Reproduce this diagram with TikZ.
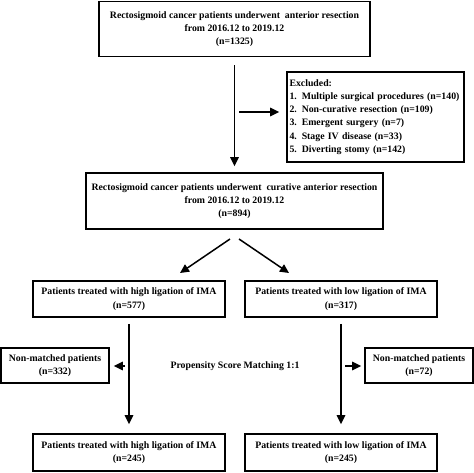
\documentclass[tikz,border=0pt]{standalone}
\usepackage{fontspec}
\setmainfont{Liberation Serif}
\usetikzlibrary{arrows.meta}
\begin{document}
\begin{tikzpicture}[x=1pt,y=-1pt,
  txt/.style={font=\bfseries\fontsize{9.8}{13.3}\selectfont},
  box/.style={draw, line width=1.8pt, align=center, inner sep=0pt, txt},
  arr/.style={line width=1.5pt, -{Triangle[length=9pt,width=8.5pt]}}]
\useasboundingbox (0,0) rectangle (474,472);
\node[box, minimum width=271pt, minimum height=55pt] (b1) at (234.5,29) {Rectosigmoid cancer patients underwent\ \ anterior resection\\from 2016.12 to 2019.12\\(n=1325)};
\node[box, minimum width=177pt, minimum height=90pt, align=left, text width=172pt, inner xsep=2.5pt] (ex) at (375.5,117) {Excluded:\\1. Multiple surgical procedures (n=140)\\2. Non-curative resection (n=109)\\3. Emergent surgery (n=7)\\4. Stage IV disease (n=33)\\5. Diverting stomy (n=142)};
\node[box, minimum width=297pt, minimum height=56pt] (b2) at (234.5,201) {Rectosigmoid cancer patients underwent\ \ curative anterior resection\\from 2016.12 to 2019.12\\(n=894)};
\node[box, minimum width=192pt, minimum height=36pt] (hi) at (129,299) {Patients treated with high ligation of IMA\\(n=577)};
\node[box, minimum width=192pt, minimum height=36pt] (lo) at (341,299) {Patients treated with low ligation of IMA\\(n=317)};
\node[box, minimum width=108pt, minimum height=35pt] (nml) at (55,365.5) {Non-matched patients\\(n=332)};
\node[box, minimum width=108pt, minimum height=35pt] (nmr) at (419,365.5) {Non-matched patients\\(n=72)};
\node[box, minimum width=192pt, minimum height=37pt] (bh) at (129,452.5) {Patients treated with high ligation of IMA\\(n=245)};
\node[box, minimum width=192pt, minimum height=37pt] (bl) at (341,452.5) {Patients treated with low ligation of IMA\\(n=245)};
\node[txt] (psm) at (235,366) {Propensity Score Matching 1:1};
\coordinate (j) at (235,112);
\draw[arr, shorten <=8pt, shorten >=6pt] (b1.south) -- (b2.north);
\draw[arr, shorten <=4pt, shorten >=7pt] (j) -- (ex.west |- j);
\coordinate (d1s) at (230,239);
\coordinate (d1e) at (180,273);
\coordinate (d2s) at (239,239);
\coordinate (d2e) at (289,273);
\draw[arr] (d1s) -- (d1e);
\draw[arr] (d2s) -- (d2e);
\draw[arr, shorten <=6pt, shorten >=9pt] (hi.south) -- (bh.north);
\draw[arr, shorten <=6pt, shorten >=9pt] (lo.south) -- (bl.north);
\coordinate (jl) at (hi.south |- psm);
\coordinate (jr) at (lo.south |- psm);
\draw[arr, shorten <=4pt, shorten >=4pt] (jl) -- (nml.east |- jl);
\draw[arr, shorten <=4pt, shorten >=3pt] (jr) -- (nmr.west |- jr);
\end{tikzpicture}
\end{document}
